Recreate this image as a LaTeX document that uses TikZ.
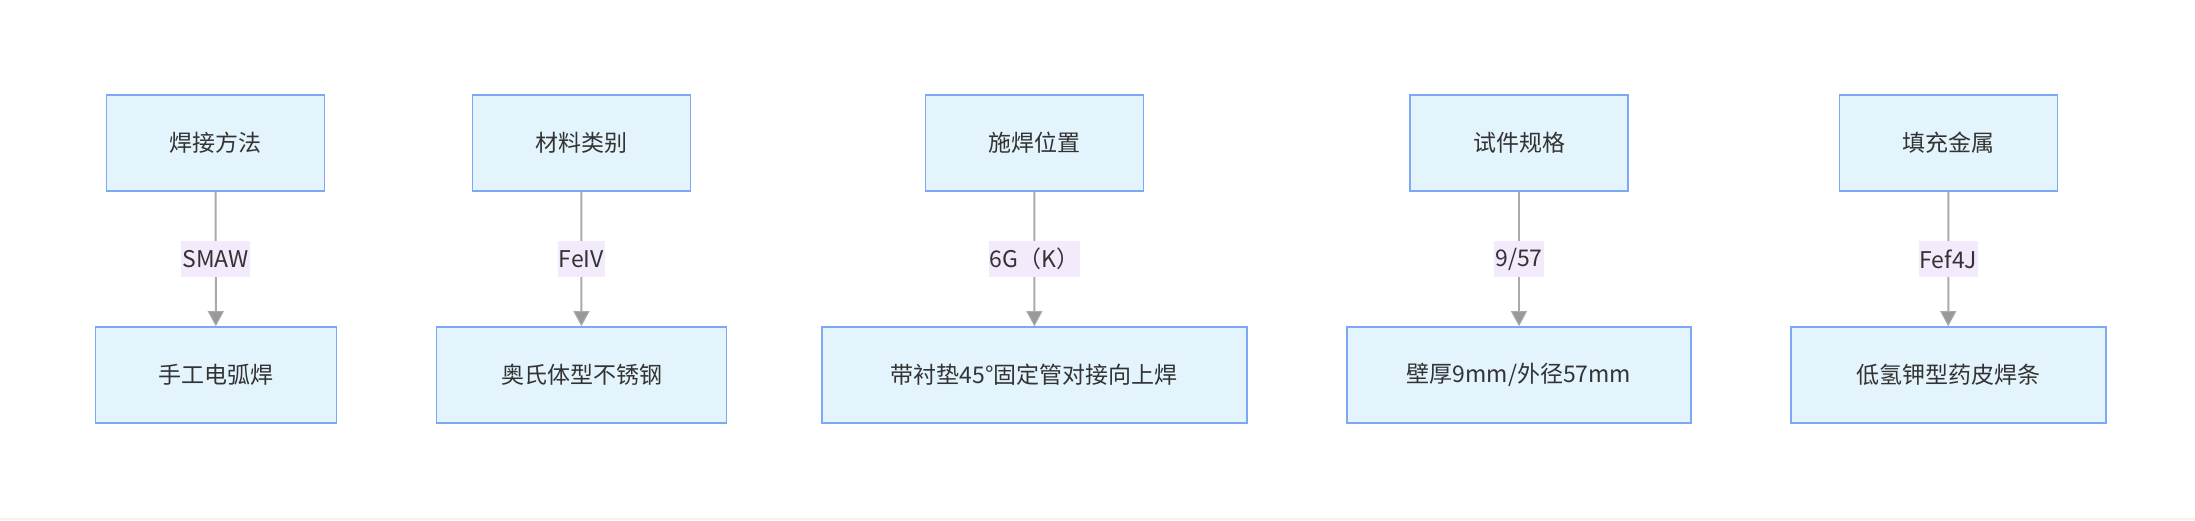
\documentclass[tikz,border=0pt]{standalone}
\usepackage{fontspec}
\setmainfont{Noto Sans CJK SC}
\usetikzlibrary{arrows.meta}
\definecolor{boxfill}{HTML}{E3F4FD}
\definecolor{boxline}{HTML}{7CA8F6}
\definecolor{tagfill}{HTML}{F3EAFC}
\definecolor{linkgray}{HTML}{AAAAAA}
\definecolor{tipgray}{HTML}{999999}
\definecolor{inkgray}{HTML}{333333}
\begin{document}
\begin{tikzpicture}[x=1pt,y=-1pt]

    \tikzset{
      field/.style={
        draw=boxline,
        fill=boxfill,
        line width=1.6pt,
        text=inkgray,
        inner sep=0pt,
        minimum width=218pt,
        minimum height=96pt,
        font=\fontsize{23}{28}\selectfont,
      },
      tag/.style={
        fill=tagfill,
        text=inkgray,
        inner xsep=1pt,
        inner ysep=0pt,
        minimum height=36pt,
        font=\fontsize{23}{28}\selectfont,
      },
      link/.style={
        draw=linkgray,
        line width=2pt,
        -{Triangle[length=15pt,width=16pt,fill=tipgray,line width=1pt]},
      },
    }
    \useasboundingbox (0,0) rectangle (2195,520);
    \fill[color={black!5}] (0,518) rectangle (2195,520);
	\node[field] (method) at (215.6,143) {焊接方法};
	\node[field] (material) at (581.3,143) {材料类别};
	\node[field] (position) at (1034.3,143) {施焊位置};
	\node[field] (sample) at (1519,143) {试件规格};
	\node[field] (filler) at (1948.4,143) {填充金属};
	\node[field,minimum width=241pt] (methodval) at (215.9,375) {手工电弧焊};
	\node[field,minimum width=290pt] (materialval) at (581.5,375) {奥氏体型不锈钢};
	\node[field,minimum width=425pt] (positionval) at (1034.4,375) {带衬垫45°固定管对接向上焊};
	\node[field,minimum width=344pt] (sampleval) at (1519,375) {壁厚9mm/外径57mm};
	\node[field,minimum width=315pt] (fillerval) at (1948.2,375) {低氢钾型药皮焊条};
	\draw[link] (method) -- node[tag] {SMAW} (methodval);
	\draw[link] (material) -- node[tag] {FeIV} (materialval);
	\draw[link] (position) -- node[tag] {6G（K）} (positionval);
	\draw[link] (sample) -- node[tag] {9/57} (sampleval);
	\draw[link] (filler) -- node[tag] {Fef4J} (fillerval);

\end{tikzpicture}
\end{document}
